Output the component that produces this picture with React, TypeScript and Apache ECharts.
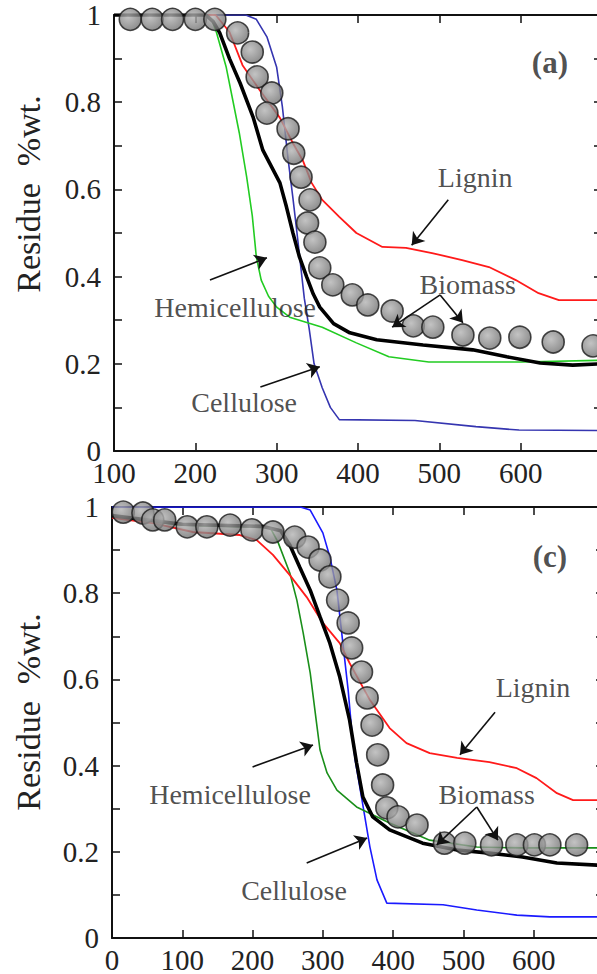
import React, { useEffect, useRef } from "react";
import * as echarts from "echarts";

const FONT = '"Liberation Serif", "Times New Roman", serif';

// ---------- Panel (a) ----------
const celluloseA = [[100,1],[262,1],[275,0.99],[288,0.95],[300,0.88],[307,0.79],[314,0.67],[320,0.58],[325,0.5],[334,0.35],[340,0.28],[346,0.2],[356,0.145],[366,0.1],[377,0.072],[470,0.07],[545,0.056],[598,0.048],[700,0.047]];
const hemiA = [[100,1],[215,1],[221,0.985],[226,0.96],[238,0.88],[246,0.805],[254,0.73],[263,0.63],[270,0.54],[275,0.445],[281,0.392],[290,0.355],[300,0.33],[316,0.307],[356,0.284],[398,0.248],[438,0.216],[487,0.204],[601,0.204],[700,0.208]];
const ligninA = [[100,1],[225,1],[242,0.961],[258,0.885],[279,0.828],[304,0.764],[320,0.706],[332,0.667],[343,0.615],[356,0.576],[377,0.537],[398,0.5],[430,0.468],[459,0.466],[491,0.454],[528,0.438],[561,0.422],[594,0.392],[622,0.362],[647,0.346],[700,0.346]];
const modelA = [[100,1],[213,1],[222,0.985],[230,0.959],[242,0.9],[255,0.844],[271,0.766],[283,0.69],[304,0.615],[312,0.56],[320,0.5],[328,0.445],[337,0.399],[345,0.36],[353,0.33],[370,0.292],[390,0.271],[423,0.255],[480,0.243],[541,0.232],[583,0.216],[624,0.202],[664,0.197],[700,0.2]];
const biomassA = [[120,0.99],[147,0.99],[172,0.99],[200,0.99],[224,0.99],[252,0.959],[270,0.915],[276,0.858],[294,0.821],[288,0.775],[314,0.739],[321,0.683],[330,0.628],[341,0.576],[338,0.523],[347,0.479],[353,0.42],[369,0.381],[393,0.358],[412,0.335],[442,0.321],[468,0.287],[492,0.284],[529,0.266],[562,0.259],[599,0.261],[640,0.25],[689,0.241]];
const labelsA = [
  { text: "(a)", x: 636, y: 0.89, bold: true },
  { text: "Lignin", x: 544, y: 0.628 },
  { text: "Hemicellulose", x: 249, y: 0.328 },
  { text: "Cellulose", x: 260, y: 0.112 },
  { text: "Biomass", x: 535, y: 0.381 },
];
const arrowsA = [
  [511, 0.576, 466, 0.472],
  [218, 0.392, 288, 0.443],
  [280, 0.147, 353, 0.193],
  [501, 0.358, 442, 0.284],
  [501, 0.358, 529, 0.294],
];

// ---------- Panel (c) ----------
const celluloseC = [[0,1],[268,1],[282,0.993],[300,0.94],[310,0.884],[320,0.807],[328,0.691],[336,0.575],[341,0.483],[346,0.413],[355,0.327],[367,0.211],[377,0.135],[391,0.081],[471,0.077],[519,0.065],[576,0.053],[623,0.049],[700,0.049]];
const hemiC = [[0,0.978],[100,0.958],[225,0.952],[236,0.919],[253,0.847],[263,0.784],[272,0.708],[282,0.615],[291,0.499],[296,0.436],[306,0.383],[320,0.343],[348,0.304],[395,0.267],[452,0.227],[519,0.211],[584,0.209],[700,0.209]];
const ligninC = [[0,0.975],[60,0.962],[115,0.942],[182,0.935],[206,0.923],[229,0.889],[253,0.842],[277,0.791],[300,0.731],[324,0.684],[338,0.638],[367,0.552],[395,0.487],[419,0.452],[452,0.429],[491,0.418],[537,0.408],[576,0.394],[604,0.371],[633,0.336],[656,0.32],[700,0.32]];
const modelC = [[0,0.98],[100,0.96],[215,0.955],[240,0.945],[253,0.912],[267,0.861],[282,0.807],[296,0.745],[310,0.684],[324,0.606],[338,0.506],[348,0.406],[357,0.327],[371,0.281],[395,0.251],[442,0.22],[491,0.204],[537,0.197],[584,0.188],[633,0.174],[690,0.169],[700,0.169]];
const biomassC = [[16,0.988],[44,0.986],[58,0.97],[75,0.97],[107,0.954],[135,0.954],[168,0.958],[199,0.947],[229,0.942],[260,0.93],[279,0.907],[296,0.877],[310,0.838],[321,0.784],[336,0.731],[341,0.673],[355,0.617],[363,0.557],[370,0.494],[378,0.425],[385,0.355],[391,0.302],[407,0.281],[434,0.262],[473,0.22],[502,0.22],[540,0.216],[576,0.216],[601,0.216],[623,0.216],[661,0.216]];
const labelsC = [
  { text: "(c)", x: 623, y: 0.884, bold: true },
  { text: "Lignin", x: 599, y: 0.582 },
  { text: "Hemicellulose", x: 168, y: 0.332 },
  { text: "Cellulose", x: 259, y: 0.111 },
  { text: "Biomass", x: 533, y: 0.332 },
];
const arrowsC = [
  [545, 0.524, 495, 0.425],
  [200, 0.397, 286, 0.448],
  [277, 0.174, 363, 0.232],
  [519, 0.304, 462, 0.216],
  [519, 0.304, 549, 0.227],
];

const yTitle = "Residue  %wt.";

function xFmt(v: number) {
  return v % 100 === 0 && v < 700 ? String(v) : "";
}
function yFmt(v: number) {
  const k = Math.round(v * 10);
  if (k % 2 !== 0) return "";
  if (k === 0) return "0";
  if (k === 10) return "1";
  return (k / 10).toString();
}

const axisLine = { show: true, onZero: false, lineStyle: { color: "#111", width: 2 } };
const axisTick = { show: true, inside: true, length: 8, lineStyle: { color: "#111", width: 1.5 } };

function buildPanel(
  idx: number,
  grid: any,
  xMin: number,
  xMax: number,
  lines: { data: number[][]; color: string; width: number }[],
  biomass: number[][],
  labels: any[],
  arrows: number[][]
) {
  const xAxes = [
    {
      gridIndex: idx, type: "value", min: xMin, max: xMax, interval: 100, position: "bottom",
      axisLine, axisTick, splitLine: { show: false },
      axisLabel: { show: true, margin: 7, fontSize: 29, fontFamily: FONT, color: "#222", formatter: xFmt },
    },
    {
      gridIndex: idx, type: "value", min: xMin, max: xMax, interval: 100, position: "top",
      axisLine, axisTick, splitLine: { show: false }, axisLabel: { show: false },
    },
  ];
  const yAxes = [
    {
      gridIndex: idx, type: "value", min: 0, max: 1, interval: 0.1, position: "left",
      axisLine, axisTick, splitLine: { show: false },
      axisLabel: { show: true, margin: 13, fontSize: 29, fontFamily: FONT, color: "#222", formatter: yFmt },
    },
    {
      gridIndex: idx, type: "value", min: 0, max: 1, interval: 0.1, position: "right",
      axisLine, axisTick, splitLine: { show: false }, axisLabel: { show: false },
    },
  ];
  const xi = idx * 2;
  const yi = idx * 2;
  const series: any[] = lines.map((l) => ({
    type: "line", xAxisIndex: xi, yAxisIndex: yi, data: l.data, showSymbol: false, symbol: "none",
    lineStyle: { color: l.color, width: l.width }, z: 2, silent: true,
  }));
  series.push({
    type: "scatter", xAxisIndex: xi, yAxisIndex: yi, data: biomass, symbol: "circle", symbolSize: 22,
    itemStyle: {
      color: new echarts.graphic.RadialGradient(0.4, 0.38, 0.7, [
        { offset: 0, color: "#b4b4b4" },
        { offset: 1, color: "#6c6c6c" },
      ]),
      borderColor: "#1a1a1a", borderWidth: 1.6,
    },
    z: 4, silent: true,
  });
  series.push({
    type: "scatter", xAxisIndex: xi, yAxisIndex: yi, symbolSize: 1, silent: true, z: 5,
    itemStyle: { color: "transparent" },
    data: labels.map((l) => ({
      name: l.text, value: [l.x, l.y],
      label: {
        show: true, position: "inside", formatter: "{b}", fontFamily: FONT, color: "#222",
        fontSize: l.bold ? 31 : 28, fontWeight: l.bold ? "bold" : "normal",
      },
    })),
  });
  series.push({
    type: "scatter", xAxisIndex: xi, yAxisIndex: yi, data: [], silent: true, z: 5,
    itemStyle: { color: "#111" },
    markLine: {
      silent: true, symbol: ["none", "arrow"], symbolSize: 12, animation: false,
      itemStyle: { color: "#111" },
      lineStyle: { color: "#111", width: 1.6, type: "solid" }, label: { show: false },
      data: arrows.map((a) => [{ coord: [a[0], a[1]] }, { coord: [a[2], a[3]] }]),
    },
  });
  return { grid, xAxes, yAxes, series };
}

export default function App() {
  const ref = useRef<HTMLDivElement>(null);
  useEffect(() => {
    if (!ref.current) return;
    const chart = echarts.init(ref.current, null, { renderer: "svg" });
    const pA = buildPanel(
      0,
      { left: 114, top: 15, width: 488, height: 436, containLabel: false, outerBoundsMode: "none" },
      100, 700,
      [
        { data: celluloseA, color: "#3535b0", width: 1.6 },
        { data: hemiA, color: "#22cc22", width: 1.6 },
        { data: ligninA, color: "#ff1a1a", width: 1.8 },
        { data: modelA, color: "#000", width: 3.6 },
      ],
      biomassA, labelsA, arrowsA
    );
    const pC = buildPanel(
      1,
      { left: 112, top: 507, width: 492, height: 431, containLabel: false, outerBoundsMode: "none" },
      0, 700,
      [
        { data: celluloseC, color: "#1a1aff", width: 1.6 },
        { data: hemiC, color: "#1a8f1a", width: 1.6 },
        { data: ligninC, color: "#ff1a1a", width: 1.8 },
        { data: modelC, color: "#000", width: 3.6 },
      ],
      biomassC, labelsC, arrowsC
    );
    chart.setOption({
      animation: false,
      backgroundColor: "#fff",
      grid: [pA.grid, pC.grid],
      xAxis: [...pA.xAxes, ...pC.xAxes],
      yAxis: [...pA.yAxes, ...pC.yAxes],
      series: [...pA.series, ...pC.series],
      graphic: [
        {
          type: "text", x: 28, y: 194, rotation: Math.PI / 2,
          style: { text: yTitle, fontSize: 34, fontFamily: FONT, fill: "#222", align: "center", verticalAlign: "middle" },
        },
        {
          type: "text", x: 28, y: 712, rotation: Math.PI / 2,
          style: { text: yTitle, fontSize: 34, fontFamily: FONT, fill: "#222", align: "center", verticalAlign: "middle" },
        },
      ],
    });
    return () => chart.dispose();
  }, []);
  return (
    <div style={{ position: "fixed", left: 0, top: 0, width: 597, height: 974, overflow: "hidden", background: "#fff" }}>
      <div ref={ref} style={{ width: 612, height: 974 }} />
    </div>
  );
}
